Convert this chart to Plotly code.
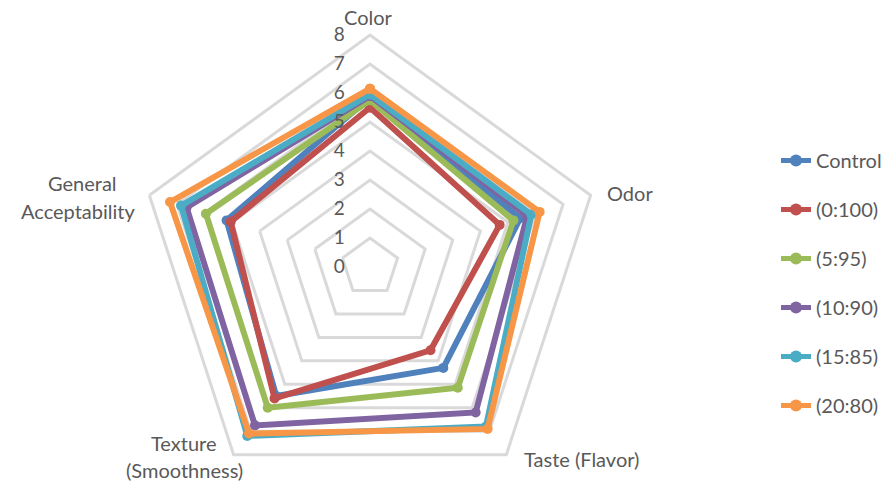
import plotly.graph_objects as go

# ---------------- data ----------------
categories = ["Color", "Odor", "Taste (Flavor)", "Texture (Smoothness)", "General Acceptability"]
series_names = ["Control", "(0:100)", "(5:95)", "(10:90)", "(15:85)", "(20:80)"]
control = [5.85, 5.45, 4.3, 5.5, 5.2]
s_0_100 = [5.5, 4.7, 3.55, 5.6, 5.05]
s_5_95 = [5.75, 5.2, 5.15, 6.0, 5.95]
s_10_90 = [5.9, 5.7, 6.2, 6.75, 6.65]
s_15_85 = [5.95, 5.85, 6.8, 7.2, 6.85]
s_20_80 = [6.15, 6.15, 6.9, 7.1, 7.25]
radial_ticks = [0, 1, 2, 3, 4, 5, 6, 7, 8]

series_values = [control, s_0_100, s_5_95, s_10_90, s_15_85, s_20_80]
colors = ["#4F81BD", "#C0504D", "#9BBB59", "#8064A2", "#4BACC6", "#F79646"]

# ---------------- layout geometry (pixels) ----------------
W, H = 890, 499
TOP = 35
CX, R = 370, 232
FONT = "Lato, 'Open Sans', sans-serif"
TXT = "#595959"


def px(x):
    return x / W


def py(y):
    return 1 - (y - TOP) / (H - TOP)


fig = go.Figure()
for name, vals, col in zip(series_names, series_values, colors):
    fig.add_trace(go.Scatterpolar(
        r=vals + [vals[0]],
        theta=categories + [categories[0]],
        mode="lines+markers",
        name=name,
        legendgroup=name,
        line=dict(color=col, width=6),
        marker=dict(color=col, size=10, symbol="circle"),
        cliponaxis=False,
    ))

# category labels (lines of each label and their pixel anchors)
label_lines = {
    "Color": [("Color", 368, 17, "center")],
    "Odor": [("Odor", 605, 193, "left")],
    "Taste (Flavor)": [("Taste (Flavor)", 581, 459, "center")],
    "Texture (Smoothness)": [("Texture", 184, 443, "center"), ("(Smoothness)", 184, 470, "center")],
    "General Acceptability": [("General", 82, 183, "center"), ("Acceptability", 78, 211, "center")],
}
annotations = []
for cat in categories:
    for text, x, y, anchor in label_lines[cat]:
        annotations.append(dict(
            text=text, x=px(x), y=py(y), xref="paper", yref="paper",
            xanchor=anchor, yanchor="middle", showarrow=False,
            font=dict(family=FONT, size=20, color=TXT),
        ))

fig.update_layout(
    width=W, height=H,
    margin=dict(l=0, r=0, t=TOP, b=0, pad=0),
    paper_bgcolor="white",
    plot_bgcolor="white",
    font=dict(family=FONT, size=19, color=TXT),
    polar=dict(
        domain=dict(x=[px(CX - R), px(CX + R)], y=[0, 1]),
        bgcolor="white",
        gridshape="linear",
        radialaxis=dict(
            range=[0, 8], tickvals=radial_ticks, ticktext=[str(t) for t in radial_ticks],
            showline=False, showgrid=True, gridcolor="#D9D9D9", gridwidth=3,
            angle=90, tickangle=90, side="counterclockwise",
            ticks="outside", ticklen=18, tickcolor="rgba(0,0,0,0)",
            tickfont=dict(family=FONT, size=19, color=TXT),
        ),
        angularaxis=dict(
            rotation=90, direction="clockwise", showgrid=False,
            showline=True, linecolor="#D9D9D9", linewidth=3,
            showticklabels=False, ticks="",
        ),
    ),
    showlegend=True,
    legend=dict(
        x=px(776), y=py(141), xanchor="left", yanchor="top",
        font=dict(family=FONT, size=20, color=TXT),
        tracegroupgap=20, itemsizing="constant", bgcolor="rgba(0,0,0,0)",
    ),
    annotations=annotations,
)

fig.write_html(
    "out.html",
    post_script="document.documentElement.style.overflow='hidden';document.body.style.overflow='hidden';",
)
